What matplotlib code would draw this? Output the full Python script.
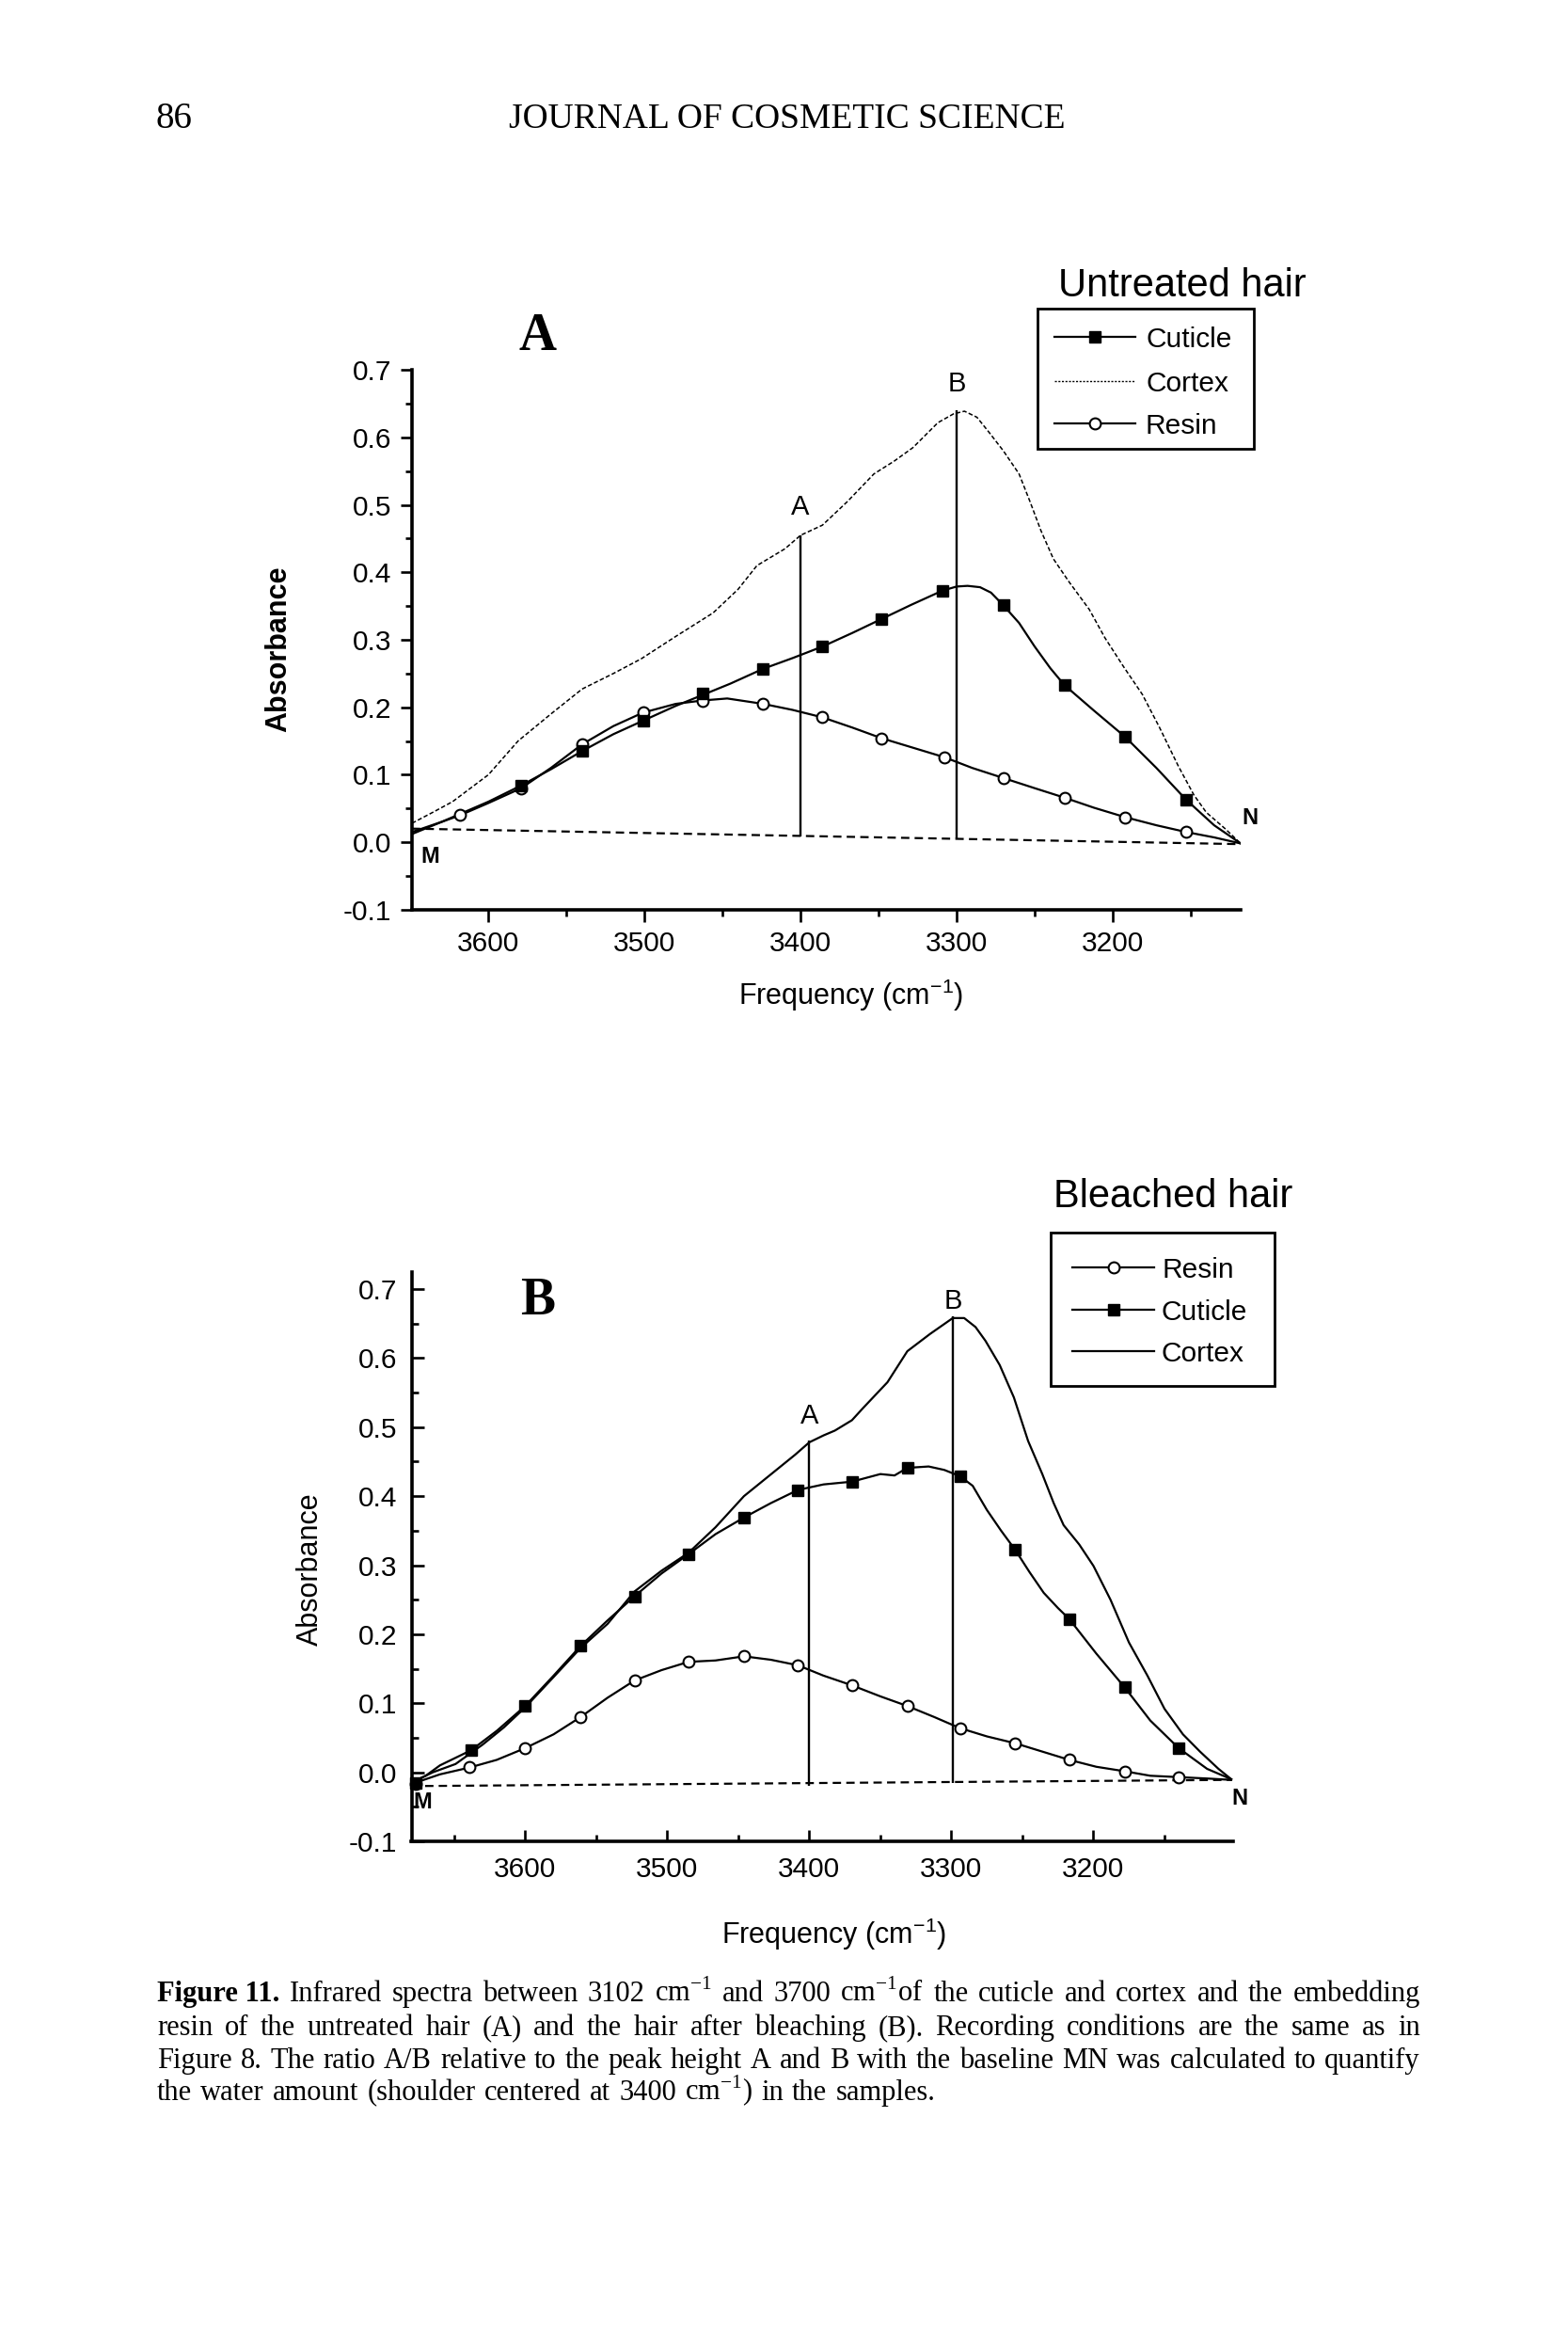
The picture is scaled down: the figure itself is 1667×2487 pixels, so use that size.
import matplotlib
matplotlib.use('Agg')
import matplotlib.pyplot as plt
from matplotlib.lines import Line2D
from matplotlib.patches import Rectangle
from matplotlib.ticker import MultipleLocator, FormatStrFormatter

# ---------------- data: panel A (untreated hair) ----------------
a_cut_f = [3649, 3630, 3618, 3600, 3579, 3560, 3540, 3520, 3501, 3480, 3463, 3445, 3424, 3405,
           3386, 3367, 3348, 3329, 3309, 3300, 3293, 3285, 3278, 3270, 3260, 3250, 3240, 3231,
           3212, 3192, 3172, 3153, 3135, 3118]
a_cut_a = [0.015, 0.03, 0.042, 0.06, 0.084, 0.108, 0.135, 0.16, 0.18, 0.202, 0.218, 0.235, 0.257, 0.273,
           0.29, 0.31, 0.331, 0.352, 0.373, 0.379, 0.38, 0.378, 0.37, 0.351, 0.325, 0.29, 0.258, 0.233,
           0.195, 0.156, 0.11, 0.063, 0.025, -0.002]
a_cut_mf = [3579, 3540, 3501, 3463, 3424, 3386, 3348, 3309, 3270, 3231, 3192, 3153]
a_cut_ma = [0.084, 0.135, 0.18, 0.22, 0.257, 0.29, 0.331, 0.373, 0.351, 0.233, 0.156, 0.063]

a_res_f = [3649, 3630, 3618, 3600, 3579, 3560, 3540, 3520, 3501, 3480, 3463, 3447, 3424, 3405,
           3386, 3367, 3348, 3328, 3308, 3290, 3270, 3250, 3231, 3212, 3192, 3172, 3153, 3135, 3118]
a_res_a = [0.012, 0.03, 0.04, 0.058, 0.08, 0.11, 0.145, 0.172, 0.192, 0.205, 0.21, 0.213, 0.205, 0.196,
           0.185, 0.17, 0.154, 0.14, 0.126, 0.11, 0.095, 0.08, 0.066, 0.051, 0.037, 0.025, 0.015, 0.007, -0.002]
a_res_mf = [3618, 3579, 3540, 3501, 3463, 3424, 3386, 3348, 3308, 3270, 3231, 3192, 3153]
a_res_ma = [0.04, 0.08, 0.145, 0.192, 0.21, 0.205, 0.185, 0.154, 0.126, 0.095, 0.066, 0.037, 0.015]

a_cor_f = [3649, 3635, 3623, 3600, 3581, 3560, 3540, 3520, 3502, 3480, 3456, 3440, 3428, 3410, 3400,
           3386, 3370, 3353, 3340, 3328, 3312, 3302, 3295, 3287, 3279, 3270, 3260, 3253, 3246, 3238,
           3228, 3215, 3205, 3193, 3181, 3170, 3158, 3148, 3140, 3128, 3118]
a_cor_a = [0.028, 0.045, 0.06, 0.1, 0.15, 0.19, 0.227, 0.25, 0.272, 0.305, 0.34, 0.375, 0.41, 0.435, 0.455,
           0.47, 0.505, 0.546, 0.565, 0.585, 0.622, 0.635, 0.639, 0.63, 0.607, 0.58, 0.546, 0.505, 0.462, 0.42,
           0.386, 0.345, 0.303, 0.26, 0.219, 0.17, 0.113, 0.07, 0.044, 0.02, -0.002]

a_base_f = [3649, 3118]
a_base_a = [0.02, -0.003]
a_peak_f = [3400, 3300]
a_peak_lo = [0.008, 0.005]
a_peak_hi = [0.455, 0.641]

# ---------------- data: panel B (bleached hair) ----------------
b_cut_f = [3680, 3670, 3660, 3650, 3638, 3620, 3600, 3580, 3561, 3542, 3523, 3504, 3485, 3466, 3446,
           3427, 3408, 3390, 3370, 3350, 3340, 3331, 3316, 3305, 3294, 3285, 3275, 3265, 3255, 3245,
           3235, 3225, 3217, 3198, 3178, 3160, 3140, 3120, 3103]
b_cut_a = [-0.015, -0.005, 0.01, 0.02, 0.032, 0.06, 0.096, 0.14, 0.183, 0.22, 0.255, 0.288, 0.316, 0.345, 0.369,
           0.39, 0.409, 0.417, 0.421, 0.432, 0.43, 0.441, 0.443, 0.438, 0.429, 0.415, 0.38, 0.35, 0.322, 0.29,
           0.26, 0.238, 0.222, 0.172, 0.123, 0.075, 0.035, 0.005, -0.01]
b_cut_mf = [3677, 3638, 3600, 3561, 3523, 3485, 3446, 3408, 3370, 3331, 3294, 3255, 3217, 3178, 3140]
b_cut_ma = [-0.015, 0.032, 0.096, 0.183, 0.255, 0.316, 0.369, 0.409, 0.421, 0.441, 0.429, 0.322, 0.222, 0.123, 0.035]

b_res_f = [3680, 3660, 3639, 3620, 3600, 3580, 3561, 3542, 3523, 3504, 3485, 3466, 3446, 3427, 3408,
           3390, 3370, 3350, 3331, 3312, 3294, 3275, 3255, 3236, 3217, 3198, 3178, 3160, 3140, 3120, 3103]
b_res_a = [-0.017, -0.003, 0.007, 0.018, 0.035, 0.055, 0.08, 0.108, 0.133, 0.148, 0.16, 0.162, 0.168, 0.163, 0.155,
           0.14, 0.126, 0.11, 0.096, 0.08, 0.064, 0.052, 0.042, 0.03, 0.018, 0.008, 0.0015, -0.005, -0.007, -0.009, -0.011]
b_res_mf = [3677, 3639, 3600, 3561, 3523, 3485, 3446, 3408, 3370, 3331, 3294, 3255, 3217, 3178, 3140]
b_res_ma = [-0.017, 0.007, 0.035, 0.08, 0.133, 0.16, 0.168, 0.155, 0.126, 0.096, 0.064, 0.042, 0.018, 0.0015, -0.007]

b_cor_f = [3680, 3665, 3649, 3630, 3615, 3600, 3580, 3561, 3542, 3523, 3504, 3485, 3466, 3446, 3434,
           3422, 3410, 3400, 3390, 3382, 3370, 3362, 3345, 3331, 3315, 3299, 3291, 3283, 3276, 3266,
           3256, 3246, 3236, 3228, 3221, 3210, 3200, 3188, 3175, 3162, 3150, 3137, 3125, 3112, 3103]
b_cor_a = [-0.015, 0.0, 0.012, 0.04, 0.065, 0.094, 0.138, 0.18, 0.215, 0.262, 0.292, 0.318, 0.355, 0.40, 0.42,
           0.44, 0.46, 0.478, 0.488, 0.495, 0.51, 0.528, 0.565, 0.61, 0.635, 0.658, 0.658, 0.645, 0.625, 0.59,
           0.543, 0.48, 0.432, 0.39, 0.358, 0.33, 0.299, 0.25, 0.188, 0.14, 0.092, 0.055, 0.03, 0.005, -0.01]

b_base_f = [3680, 3103]
b_base_a = [-0.02, -0.011]
b_peak_f = [3400, 3299]
b_peak_lo = [-0.02, -0.015]
b_peak_hi = [0.48, 0.66]

y_ticks = [-0.1, 0.0, 0.1, 0.2, 0.3, 0.4, 0.5, 0.6, 0.7]
x_ticks = [3200, 3300, 3400, 3500, 3600]

caption_lines = [
    [("Figure 11.", "bold"), ("Infrared", "normal"), ("spectra", "normal"), ("between", "normal"),
     ("3102", "normal"), (r"cm$^{\mathregular{-1}}$", "normal"), ("and", "normal"), ("3700", "normal"),
     (r"cm$^{\mathregular{-1}}$of", "normal"), ("the", "normal"), ("cuticle", "normal"), ("and", "normal"),
     ("cortex", "normal"), ("and", "normal"), ("the", "normal"), ("embedding", "normal")],
    "resin of the untreated hair (A) and the hair after bleaching (B). Recording conditions are the same as in",
    "Figure 8. The ratio A/B relative to the peak height A and B with the baseline MN was calculated to quantify",
    r"the water amount (shoulder centered at 3400 cm$^{\mathregular{-1}}$) in the samples.",
]

# ---------------- figure ----------------
W, H = 1667, 2487
fig = plt.figure(figsize=(W / 100, H / 100), dpi=100)
SANS = 'Liberation Sans'
SERIF = 'Liberation Serif'


def fx(px):
    return px / W


def fy(py):
    return 1 - py / H


LW = 1.6
cut_line = dict(color='black', lw=LW, solid_joinstyle='round')
cut_mark = dict(linestyle='none', marker='s', ms=8, color='black')
res_line = dict(color='black', lw=LW, solid_joinstyle='round')
res_mark = dict(linestyle='none', marker='o', ms=8.5, mfc='white', mec='black', mew=1.5)
cor_a_line = dict(color='black', lw=1.1, linestyle=(0, (3, 1.6)))
cor_b_line = dict(color='black', lw=LW, solid_joinstyle='round')
base_line = dict(color='black', lw=1.6, linestyle=(0, (4, 2.5)))


def style(ax, direction, xpad, ypad):
    for s in ['top', 'right']:
        ax.spines[s].set_visible(False)
    for s in ['left', 'bottom']:
        ax.spines[s].set_linewidth(2.6)
    ax.set_xticks(x_ticks)
    ax.xaxis.set_minor_locator(MultipleLocator(50))
    ax.set_yticks(y_ticks)
    ax.yaxis.set_minor_locator(MultipleLocator(0.05))
    ax.yaxis.set_major_formatter(FormatStrFormatter('%.1f'))
    ax.tick_params(which='major', direction=direction, length=9, width=1.9, labelsize=21.5)
    ax.tick_params(which='minor', direction=direction, length=5, width=1.9)
    ax.tick_params(axis='x', which='major', pad=xpad)
    ax.tick_params(axis='y', which='major', pad=ypad)
    for lab in ax.get_xticklabels() + ax.get_yticklabels():
        lab.set_fontfamily(SANS)
    ax.set_facecolor('none')


# ---------- panel A ----------
axA = fig.add_axes([fx(438), fy(966.7), (1319 - 438) / W, (966.7 - 393.3) / H])
axA.plot(a_base_f, a_base_a, **base_line)
axA.plot(a_cor_f, a_cor_a, **cor_a_line)
axA.plot(a_res_f, a_res_a, **res_line)
axA.plot(a_cut_f, a_cut_a, **cut_line)
axA.plot(a_res_mf, a_res_ma, **res_mark)
axA.plot(a_cut_mf, a_cut_ma, **cut_mark)
axA.vlines(a_peak_f, a_peak_lo, a_peak_hi, colors='black', lw=1.7)
axA.set_xlim(3649, 3118)
axA.set_ylim(-0.1, 0.7)
style(axA, 'out', 7, 6.5)
axA.text(a_peak_f[0], 0.485, 'A', ha='center', va='baseline', fontsize=21, family=SANS)
axA.text(a_peak_f[1], 0.668, 'B', ha='center', va='baseline', fontsize=21, family=SANS)
axA.text(3643.5, -0.021, 'M', ha='left', va='center', fontsize=17, family=SANS, fontweight='bold')
axA.text(3117, 0.036, 'N', ha='left', va='center', fontsize=17, family=SANS, fontweight='bold',
         clip_on=False)

# ---------- panel B ----------
axB = fig.add_axes([fx(437.5), fy(1957), (1310.5 - 437.5) / W, (1957 - 1351.7) / H])
axB.plot(b_base_f, b_base_a, **base_line)
axB.plot(b_cor_f, b_cor_a, **cor_b_line)
axB.plot(b_res_f, b_res_a, **res_line)
axB.plot(b_cut_f, b_cut_a, **cut_line)
axB.plot(b_res_mf, b_res_ma, clip_on=False, **res_mark)
axB.plot(b_cut_mf, b_cut_ma, clip_on=False, **cut_mark)
axB.vlines(b_peak_f, b_peak_lo, b_peak_hi, colors='black', lw=1.7)
axB.set_xlim(3680, 3102)
axB.set_ylim(-0.1, 0.725)
style(axB, 'in', 11.5, 11)
axB.text(b_peak_f[0], 0.505, 'A', ha='center', va='baseline', fontsize=21, family=SANS)
axB.text(b_peak_f[1], 0.672, 'B', ha='center', va='baseline', fontsize=21, family=SANS)
axB.text(3679, -0.043, 'M', ha='left', va='center', fontsize=17, family=SANS, fontweight='bold')
axB.text(3103, -0.038, 'N', ha='left', va='center', fontsize=17, family=SANS, fontweight='bold',
         clip_on=False)

# axis labels
fig.text(fx(296), fy(690), 'Absorbance', rotation=90, ha='center', va='center',
         fontsize=22, family=SANS, fontweight='bold')
fig.text(fx(905), fy(1058), r'Frequency (cm$^{\mathregular{-1}}$)', ha='center', va='center',
         fontsize=22, family=SANS)
fig.text(fx(330), fy(1668), 'Absorbance', rotation=90, ha='center', va='center',
         fontsize=22, family=SANS)
fig.text(fx(887), fy(2056), r'Frequency (cm$^{\mathregular{-1}}$)', ha='center', va='center',
         fontsize=22, family=SANS)

# panel letters
fig.text(fx(572), fy(372), 'A', ha='center', va='baseline', fontsize=40, family=SERIF, fontweight='bold')
fig.text(fx(572), fy(1397), 'B', ha='center', va='baseline', fontsize=40, family=SERIF, fontweight='bold')


# legends
def legend(title, title_x, title_y, box, hx0, hx1, tx, rows):
    x0, y0, x1, y1 = box
    fig.text(fx(title_x), fy(title_y), title, ha='left', va='baseline', fontsize=30, family=SANS)
    fig.add_artist(Rectangle((fx(x0), fy(y1)), (x1 - x0) / W, (y1 - y0) / H, transform=fig.transFigure,
                             fill=False, lw=2.0, ec='black'))
    for y, label, lkw, mkw in rows:
        fig.add_artist(Line2D([fx(hx0), fx(hx1)], [fy(y), fy(y)], transform=fig.transFigure, **lkw))
        if mkw is not None:
            fig.add_artist(Line2D([fx((hx0 + hx1) / 2)], [fy(y)], transform=fig.transFigure, **mkw))
        fig.text(fx(tx), fy(y + 11), label, ha='left', va='baseline', fontsize=21.5, family=SANS)


legend('Untreated hair', 1125, 315, (1103, 328, 1333, 477), 1121, 1207, 1218,
       [(358, 'Cuticle', cut_line, cut_mark),
        (405, 'Cortex', dict(color='black', lw=1.0, linestyle=(0, (1.5, 1.2))), None),
        (450, 'Resin', res_line, res_mark)])
legend('Bleached hair', 1120, 1283, (1117, 1310, 1355, 1473), 1140, 1227, 1235,
       [(1347, 'Resin', res_line, res_mark),
        (1392, 'Cuticle', cut_line, cut_mark),
        (1436, 'Cortex', cor_b_line, None)])

# header
fig.text(fx(165), fy(136), '86', ha='left', va='baseline', fontsize=28, family=SERIF)
fig.text(fx(837), fy(136), 'JOURNAL OF COSMETIC SCIENCE', ha='center', va='baseline', fontsize=27,
         family=SERIF)

# caption, justified
renderer = fig.canvas.get_renderer()
cap_x0, cap_x1 = 167, 1510
cap_base = [2127, 2163, 2198, 2232]
CAP_FS = 22
for i, line in enumerate(caption_lines):
    if isinstance(line, str):
        tokens = [(w, 'normal') for w in line.split(' ')]
    else:
        tokens = line
    arts = []
    widths = []
    for s, wgt in tokens:
        t = fig.text(0, fy(cap_base[i]), s, ha='left', va='baseline', fontsize=CAP_FS, family=SERIF,
                     fontweight=wgt)
        arts.append(t)
        widths.append(t.get_window_extent(renderer).width)
    last = (i == len(caption_lines) - 1)
    if last:
        sp = CAP_FS * 100 / 72 * 0.3
    else:
        sp = (cap_x1 - cap_x0 - sum(widths)) / (len(tokens) - 1)
    x = cap_x0
    for t, wd in zip(arts, widths):
        t.set_x(fx(x))
        x += wd + sp

fig.savefig('out.png', dpi=100, facecolor='white')
